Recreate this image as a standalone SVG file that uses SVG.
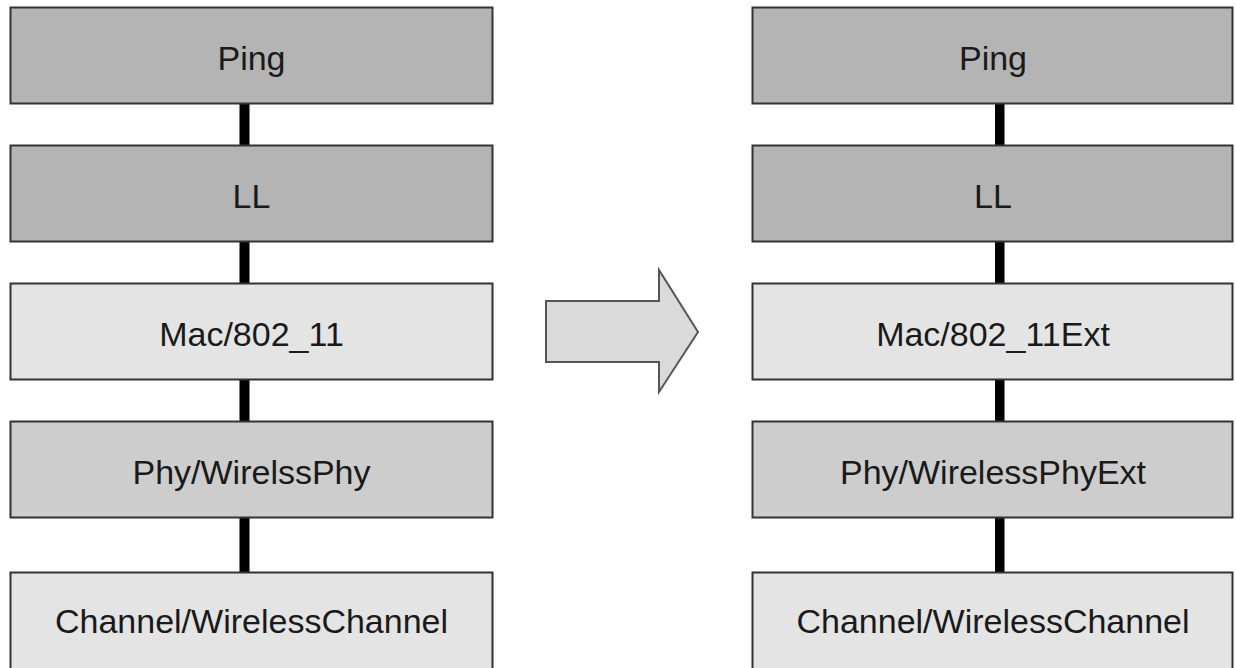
<svg xmlns="http://www.w3.org/2000/svg" width="1236" height="668" viewBox="0 0 1236 668">
<style>
.box{stroke:#333;stroke-width:2}
.dark{fill:#b4b4b4}
.mid{fill:#cdcdcd}
.light{fill:#e4e4e4}
.lbl{font-family:"Liberation Sans",Arial,sans-serif;font-size:34px;fill:#1a1a1a;text-anchor:middle}
.conn{fill:#000}
</style>
<rect width="1236" height="668" fill="#fff"/>
<g id="connectors">
<rect class="conn" x="239.5" y="104" width="10" height="42"/>
<rect class="conn" x="239.5" y="242" width="10" height="42"/>
<rect class="conn" x="239.5" y="380" width="10" height="42"/>
<rect class="conn" x="239.5" y="518" width="10" height="55"/>
<rect class="conn" x="995" y="104" width="9.5" height="42"/>
<rect class="conn" x="995" y="242" width="9.5" height="42"/>
<rect class="conn" x="995" y="380" width="9.5" height="42"/>
<rect class="conn" x="995" y="518" width="9.5" height="55"/>
</g>
<g id="l-ping"><rect class="box dark" x="10.5" y="7.5" width="482" height="96"/><text class="lbl" x="251.5" y="70">Ping</text></g>
<g id="l-ll"><rect class="box dark" x="10.5" y="145.5" width="482" height="96"/><text class="lbl" x="251.5" y="208">LL</text></g>
<g id="l-mac"><rect class="box light" x="10.5" y="283.5" width="482" height="96"/><text class="lbl" x="251.5" y="346">Mac/802_11</text></g>
<g id="l-phy"><rect class="box mid" x="10.5" y="421.5" width="482" height="96"/><text class="lbl" x="251.5" y="484">Phy/WirelssPhy</text></g>
<g id="l-chan"><rect class="box light" x="10.5" y="572.5" width="482" height="100"/><text class="lbl" x="251.5" y="633">Channel/WirelessChannel</text></g>
<g id="r-ping"><rect class="box dark" x="752.5" y="7.5" width="480" height="96"/><text class="lbl" x="993" y="70">Ping</text></g>
<g id="r-ll"><rect class="box dark" x="752.5" y="145.5" width="480" height="96"/><text class="lbl" x="993" y="208">LL</text></g>
<g id="r-mac"><rect class="box light" x="752.5" y="283.5" width="480" height="96"/><text class="lbl" x="993" y="346">Mac/802_11Ext</text></g>
<g id="r-phy"><rect class="box mid" x="752.5" y="421.5" width="480" height="96"/><text class="lbl" x="993" y="484">Phy/WirelessPhyExt</text></g>
<g id="r-chan"><rect class="box light" x="752.5" y="572.5" width="480" height="100"/><text class="lbl" x="993" y="633">Channel/WirelessChannel</text></g>
<g id="arrow"><polygon points="546,301 659,301 659,270 698,332 659,392 659,362 546,362" fill="#dadada" stroke="#555" stroke-width="2"/></g>
</svg>
